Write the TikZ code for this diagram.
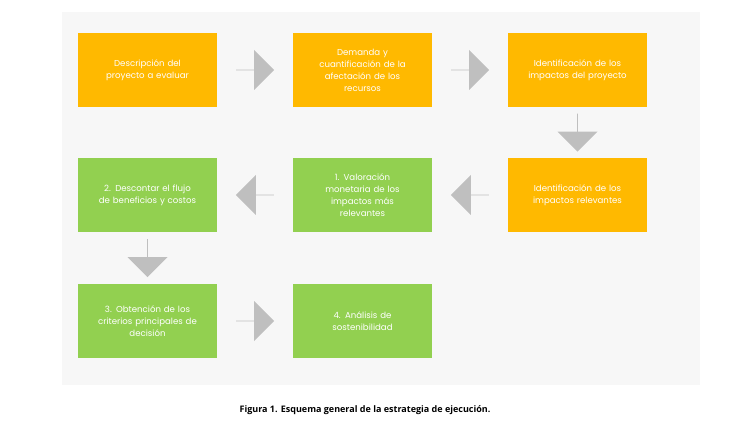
\documentclass[tikz,border=0pt]{standalone}
\usepackage{fontspec}
\setmainfont{Poppins}
\newfontfamily\capfont{Open Sans}
\usetikzlibrary{shapes.arrows,calc}
\definecolor{orng}{HTML}{FFB900}
\definecolor{grn}{HTML}{92D050}
\definecolor{arr}{HTML}{BFBFBF}
\begin{document}
\begin{tikzpicture}[x=1pt,y=-1pt,
 box/.style={minimum width=139pt,minimum height=74pt,text width=125pt,align=center,text=white,font=\fontsize{8.6}{12}\selectfont,inner sep=0pt},
 ar/.style={single arrow,fill=arr,draw=none,minimum height=38pt,minimum width=40pt,single arrow head extend=10pt,inner sep=0pt,anchor=center}]
\useasboundingbox (0,0) rectangle (730,430);
\fill[white] (0,0) rectangle (730,430);
\fill[black!3] (62,12) rectangle (700,385);
\node[box,fill=orng] (a) at (147.5,70) {Descripción del\\proyecto a evaluar};
\node[box,fill=orng] (b) at (362.5,70) {Demanda y\\cuantificación de la\\afectación de los\\recursos};
\node[box,fill=orng] (c) at (577.5,70) {Identificación de los\\impactos del proyecto};
\node[box,fill=orng] (d) at (577.5,195) {Identificación de los\\impactos relevantes};
\node[box,fill=grn] (e) at (362.5,195) {1. Valoración\\monetaria de los\\impactos más\\relevantes};
\node[box,fill=grn] (f) at (147.5,195) {2. Descontar el flujo\\de beneficios y costos};
\node[box,fill=grn] (g) at (147.5,321) {3. Obtención de los\\criterios principales de\\decisión};
\node[box,fill=grn] (h) at (362.5,321) {4. Análisis de\\sostenibilidad};
\node[ar] (ab) at ($(a.east)!0.5!(b.west)$) {};
\node[ar] (bc) at ($(b.east)!0.5!(c.west)$) {};
\node[ar,rotate=-90] (cd) at ($(c.south)!0.5!(d.north)$) {};
\node[ar,rotate=180] (de) at ($(d.west)!0.5!(e.east)$) {};
\node[ar,rotate=180] (ef) at ($(e.west)!0.5!(f.east)$) {};
\node[ar,rotate=-90] (fg) at ($(f.south)!0.5!(g.north)$) {};
\node[ar] (gh) at ($(g.east)!0.5!(h.west)$) {};
\node[font=\capfont\bfseries\fontsize{9}{11}\selectfont] (cap) at (365,410) {Figura 1. Esquema general de la estrategia de ejecución.};
\end{tikzpicture}
\end{document}
